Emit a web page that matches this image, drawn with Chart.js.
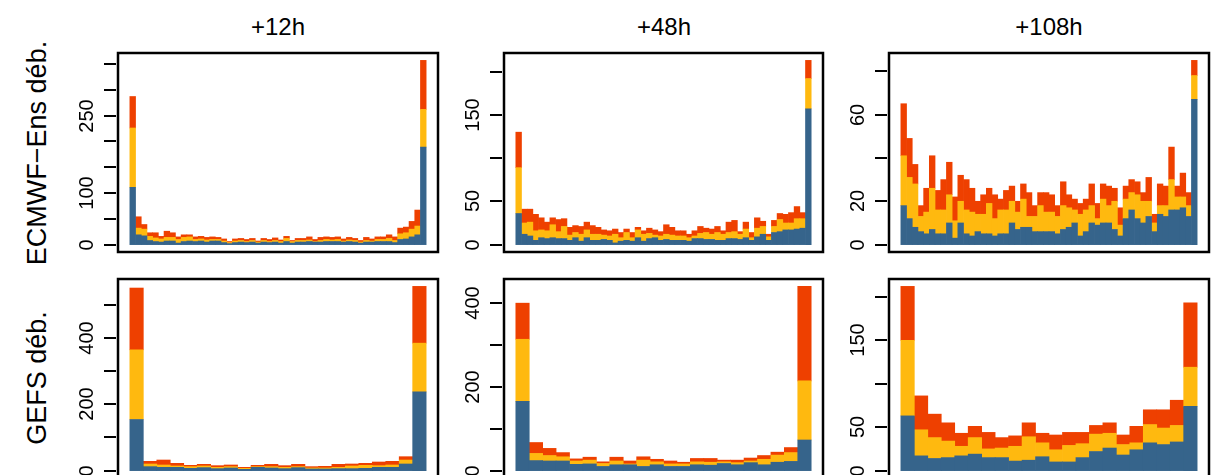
<!DOCTYPE html>
<html>
<head>
<meta charset="utf-8">
<script src="https://cdn.jsdelivr.net/npm/chart.js@4.4.1/dist/chart.umd.min.js"></script>
<style>
  body { margin: 0; width: 1211px; height: 475px; overflow: hidden; background: #fff; position: relative;
         font-family: "Liberation Sans", Arial, sans-serif; color: #000; }
  canvas { position: absolute; }
  .title { position: absolute; top: 13px; font-size: 24px; line-height: 28px; transform: translateX(-50%); white-space: nowrap; }
  .rowlab { position: absolute; font-size: 27px; line-height: 30px; white-space: nowrap; transform: translate(-50%, -50%) rotate(-90deg); }
</style>
</head>
<body>
<div class="title" style="left:278px">+12h</div>
<div class="title" style="left:664px">+48h</div>
<div class="title" style="left:1049px">+108h</div>
<div class="rowlab" style="left:37px;top:153px">ECMWF−Ens déb.</div>
<div class="rowlab" style="left:37px;top:378px">GEFS déb.</div>

<canvas id="c1"></canvas>
<canvas id="c2"></canvas>
<canvas id="c3"></canvas>
<canvas id="c4"></canvas>
<canvas id="c5"></canvas>
<canvas id="c6"></canvas>

<script>
'use strict';

// ***** DATA *****
// rank histograms: ECMWF 51 members -> 52 ranks, GEFS 21 members -> 22 ranks
const ecmwfRanks = Array.from({ length: 52 }, (_, i) => i + 1);
const gefsRanks = Array.from({ length: 22 }, (_, i) => i + 1);

// ECMWF +12h
const ecmwf12Blue = [111,19,17,8,6,5,7,7,3,6,7,6,7,5,7,7,4,2,4,5,4,5,3,5,4,5,3,6,3,5,5,6,5,5,6,6,6,5,6,5,3,5,5,6,6,6,4,10,11,15,19,189];
const ecmwf12Yellow = [115,13,13,8,7,6,7,7,7,8,8,4,4,4,3,3,3,2,3,3,2,3,2,3,2,3,3,6,3,3,3,3,1,3,4,3,4,2,3,3,2,3,2,4,4,6,4,11,12,15,17,73];
const ecmwf12Red = [61,22,9,7,10,5,12,9,5,5,4,5,5,5,5,4,4,2,4,4,4,4,2,4,4,5,3,4,2,4,4,6,4,6,5,5,5,4,5,4,3,6,4,5,5,7,7,11,11,15,31,95];

// ECMWF +48h
const ecmwf48Blue = [36,12,10,5,8,7,8,7,7,5,8,4,8,5,5,6,5,2,4,5,4,8,4,7,8,5,6,5,5,5,4,7,7,6,6,5,5,7,7,6,8,5,9,12,5,14,15,17,17,18,19,157];
const ecmwf48Yellow = [53,13,16,11,9,9,15,8,14,6,6,8,9,7,7,5,5,10,4,9,4,9,8,6,3,5,6,6,5,5,4,3,6,8,6,9,7,7,8,6,10,3,10,9,4,7,14,8,8,12,11,35];
const ecmwf48Red = [41,16,15,19,14,10,8,14,9,9,8,9,9,10,8,6,6,6,6,4,6,3,4,6,6,5,11,9,6,6,4,6,8,5,6,7,4,12,13,3,8,6,12,6,3,7,7,10,12,14,7,21];

// ECMWF +108h
const ecmwf108Blue = [18,12,8,6,5,7,5,5,10,3,10,5,4,6,5,5,4,5,5,10,7,8,8,6,6,6,6,5,7,8,10,4,6,10,9,10,10,7,4,12,16,12,10,13,6,14,13,16,16,17,13,67];
const ecmwf108Yellow = [23,19,20,7,10,19,11,11,13,8,10,11,11,8,9,14,8,11,11,10,8,13,5,7,12,9,9,8,11,9,6,10,10,8,3,11,8,13,5,9,8,11,10,7,4,4,5,14,6,5,5,11];
const ecmwf108Red = [24,18,9,5,11,15,9,14,15,11,12,14,11,6,9,7,11,5,9,7,5,7,11,5,6,9,8,5,11,6,5,5,5,10,7,7,9,6,8,6,6,6,4,11,4,10,9,15,5,11,6,7];

// GEFS +12h
const gefs12Blue = [154,12,10,10,7,9,6,8,4,10,8,6,9,5,5,6,6,7,10,10,20,237];
const gefs12Yellow = [210,8,7,4,5,5,4,4,3,2,4,4,3,3,3,4,8,9,5,7,12,147];
const gefs12Red = [186,8,15,8,4,5,5,5,3,4,7,5,7,4,5,9,6,6,11,11,10,171];

// GEFS +48h
const gefs48Blue = [165,24,23,23,15,16,10,14,14,10,14,10,10,14,13,17,14,19,14,20,22,73];
const gefs48Yellow = [148,17,13,10,8,9,7,9,2,15,7,6,6,7,7,4,5,4,13,17,21,141];
const gefs48Red = [86,26,17,10,5,7,4,9,7,8,6,7,4,8,9,4,6,7,9,7,12,225];

// GEFS +108h
const gefs108Blue = [63,17,14,15,17,19,15,15,11,12,16,10,10,15,22,26,18,24,32,30,33,74];
const gefs108Yellow = [87,30,24,19,11,19,10,11,17,27,16,14,19,16,20,17,12,8,21,19,19,45];
const gefs108Red = [62,39,27,21,15,13,19,12,12,16,11,17,15,13,10,12,11,19,17,21,29,74];

// y ticks (all marks) and the ones that carry a label
const ecmwf12Ticks = [0, 50, 100, 150, 200, 250, 300, 350];
const ecmwf12Labels = [0, 100, 250];
const ecmwf48Ticks = [0, 50, 100, 150, 200];
const ecmwf48Labels = [0, 50, 150];
const ecmwf108Ticks = [0, 20, 40, 60, 80];
const ecmwf108Labels = [0, 20, 60];
const gefs12Ticks = [0, 100, 200, 300, 400, 500];
const gefs12Labels = [0, 200, 400];
const gefs48Ticks = [0, 100, 200, 300, 400];
const gefs48Labels = [0, 200, 400];
const gefs108Ticks = [0, 50, 100, 150, 200];
const gefs108Labels = [0, 50, 150];

// ***** STYLE *****
const BLUE = '#36648B';
const YELLOW = '#FFB90F';
const RED = '#EE4000';
const AXIS_W = 50;
const PAD = 4;

// box positions on the page
const colBox = [[118, 438], [504, 823], [889, 1209]];
const rowBox = [[53, 252], [279, 478]];

// ***** HELPERS *****
function framePlugin(ticks, labels) {
  return {
    id: 'frame',
    afterDraw(chart) {
      const ctx = chart.ctx;
      const a = chart.chartArea;
      const y = chart.scales.y;
      ctx.save();
      ctx.strokeStyle = '#000';
      ctx.fillStyle = '#000';
      ctx.lineWidth = 2.5;
      ctx.strokeRect(a.left, a.top, a.right - a.left, a.bottom - a.top);

      ctx.lineWidth = 2;
      ctx.font = '20px "Liberation Sans", Arial, sans-serif';
      ctx.textAlign = 'center';
      ctx.textBaseline = 'middle';
      for (let i = 0; i < ticks.length; i++) {
        let py = Math.round(y.getPixelForValue(ticks[i]));
        ctx.beginPath();
        ctx.moveTo(a.left - 14, py);
        ctx.lineTo(a.left - 2, py);
        ctx.stroke();
        if (labels.includes(ticks[i])) {
          ctx.save();
          ctx.translate(a.left - 31, py);
          ctx.rotate(-Math.PI / 2);
          ctx.fillText(String(ticks[i]), 0, 0);
          ctx.restore();
        }
      }
      ctx.restore();
    }
  };
}

function renderPanel(id, col, row, ranks, blue, yellow, red, ticks, labels) {
  let canvas = document.getElementById(id);
  let bx = colBox[col];
  let by = rowBox[row];
  let w = bx[1] - bx[0] + AXIS_W + PAD;
  let h = by[1] - by[0] + 2 * PAD;
  canvas.width = w;
  canvas.height = h;
  canvas.style.width = w + 'px';
  canvas.style.height = h + 'px';
  canvas.style.left = (bx[0] - AXIS_W) + 'px';
  canvas.style.top = (by[0] - PAD) + 'px';

  let totals = blue.map((v, i) => v + yellow[i] + red[i]);
  let top = Math.max(...totals);
  let n = ranks.length;

  let dataset = (label, data, color) => ({
    label: label,
    data: data,
    backgroundColor: color,
    borderColor: color,
    borderWidth: 0,
    barPercentage: 1,
    categoryPercentage: 1
  });

  new Chart(canvas, {
    type: 'bar',
    data: {
      labels: ranks,
      datasets: [
        dataset('blue', blue, BLUE),
        dataset('yellow', yellow, YELLOW),
        dataset('red', red, RED)
      ]
    },
    options: {
      responsive: false,
      animation: false,
      devicePixelRatio: 1,
      layout: { padding: { left: AXIS_W, right: PAD, top: PAD, bottom: PAD } },
      plugins: { legend: { display: false }, tooltip: { enabled: false } },
      scales: {
        x: {
          type: 'linear',
          stacked: true,
          display: false,
          offset: false,
          grid: { offset: false },
          min: 0.5 - 0.04 * n,
          max: n + 0.5 + 0.04 * n
        },
        y: {
          stacked: true,
          display: false,
          min: -0.04 * top,
          max: 1.04 * top
        }
      }
    },
    plugins: [framePlugin(ticks, labels)]
  });
}

// ***** EXECUTABLE CODE *****
renderPanel('c1', 0, 0, ecmwfRanks, ecmwf12Blue, ecmwf12Yellow, ecmwf12Red, ecmwf12Ticks, ecmwf12Labels);
renderPanel('c2', 1, 0, ecmwfRanks, ecmwf48Blue, ecmwf48Yellow, ecmwf48Red, ecmwf48Ticks, ecmwf48Labels);
renderPanel('c3', 2, 0, ecmwfRanks, ecmwf108Blue, ecmwf108Yellow, ecmwf108Red, ecmwf108Ticks, ecmwf108Labels);
renderPanel('c4', 0, 1, gefsRanks, gefs12Blue, gefs12Yellow, gefs12Red, gefs12Ticks, gefs12Labels);
renderPanel('c5', 1, 1, gefsRanks, gefs48Blue, gefs48Yellow, gefs48Red, gefs48Ticks, gefs48Labels);
renderPanel('c6', 2, 1, gefsRanks, gefs108Blue, gefs108Yellow, gefs108Red, gefs108Ticks, gefs108Labels);
</script>
</body>
</html>
